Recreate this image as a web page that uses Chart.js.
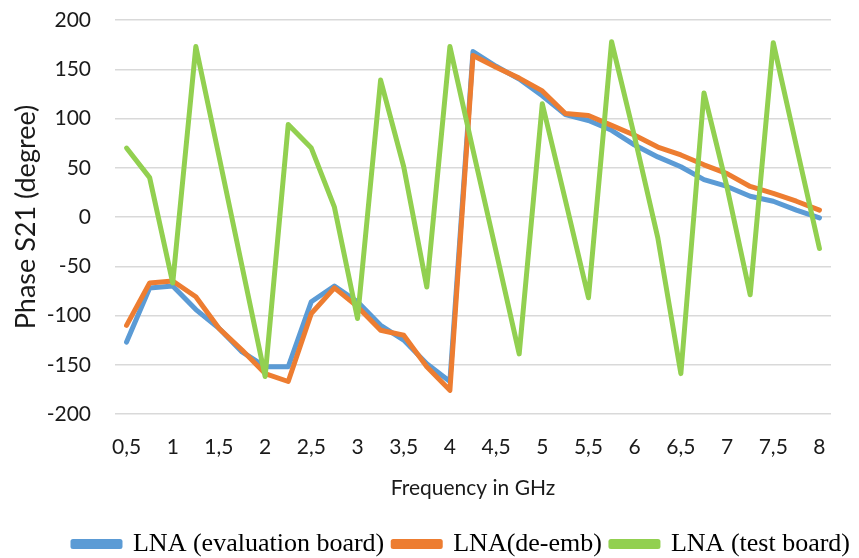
<!DOCTYPE html>
<html>
<head>
<meta charset="utf-8">
<script src="https://cdn.jsdelivr.net/npm/chart.js@4/dist/chart.umd.min.js"></script>
<style>
  html, body { margin: 0; padding: 0; background: #fff; }
  #box { width: 859px; height: 558px; }
</style>
</head>
<body>
<div id="box"><canvas id="grafico"></canvas></div>
<script>
// frequencias (GHz) e fase S21 em graus
const frequencias = [0.5, 0.75, 1, 1.25, 1.5, 1.75, 2, 2.25, 2.5, 2.75, 3, 3.25, 3.5, 3.75, 4,
    4.25, 4.5, 4.75, 5, 5.25, 5.5, 5.75, 6, 6.25, 6.5, 6.75, 7, 7.25, 7.5, 7.75, 8];

const faseEvaluation = [-127, -72, -70, -94, -113, -137, -152, -152, -86, -70, -86, -110, -125, -149, -167,
    168, 153, 140, 123, 104, 98, 88, 73, 61, 51, 38, 31, 21, 16, 7, -1];

const faseDeEmb = [-110, -67, -65, -81, -113, -135, -159, -167, -98, -72, -91, -115, -120, -152, -176,
    164, 152, 141, 128, 105, 103, 93, 83, 71, 63, 53, 44, 31, 24, 16, 7];

const faseTestBoard = [70, 40, -67, 173, 62, -50, -162, 94, 70, 10, -103, 139, 51, -71, 173,
    68, -35, -139, 115, 17, -82, 178, 81, -21, -159, 126, 30, -79, 177, 72, -32];

const nomesSeries = ["LNA (evaluation board)", "LNA(de-emb)", "LNA (test board)"];
const coresSeries = ["#5b9bd5", "#ed7d31", "#92d050"];

function serie(i, dados, ordem) {
    return {
        label: nomesSeries[i],
        data: dados,
        borderColor: coresSeries[i],
        backgroundColor: coresSeries[i],
        borderWidth: 5,
        borderCapStyle: "round",
        borderJoinStyle: "round",
        pointRadius: 0,
        tension: 0,
        order: ordem
    };
}

const ctx = document.getElementById("grafico");

new Chart(ctx, {
    type: "line",
    data: {
        labels: frequencias,
        datasets: [
            serie(0, faseEvaluation, 3),
            serie(1, faseDeEmb, 2),
            serie(2, faseTestBoard, 1)
        ]
    },
    options: {
        responsive: true,
        maintainAspectRatio: false,
        animation: false,
        layout: { padding: { left: 0, right: 0, top: 20, bottom: -9 } },
        plugins: {
            tooltip: { enabled: false },
            legend: {
                position: "bottom",
                align: "end",
                labels: {
                    color: "#000",
                    font: { family: "'Liberation Serif', 'Times New Roman', serif", size: 26 },
                    boxWidth: 47,
                    boxHeight: 5,
                    padding: 9,
                    sort: (a, b) => a.datasetIndex - b.datasetIndex
                }
            }
        },
        scales: {
            x: {
                offset: true,
                grid: { display: false, drawTicks: false },
                border: { display: false },
                ticks: {
                    autoSkip: false,
                    maxRotation: 0,
                    padding: 21,
                    color: "#1a1a1a",
                    font: { family: "Lato", size: 21 },
                    callback: function (valor, indice) {
                        if (indice % 2 !== 0) return "";
                        return String(frequencias[indice]).replace(".", ",");
                    }
                },
                title: {
                    display: true,
                    text: "Frequency in GHz",
                    color: "#1a1a1a",
                    font: { family: "Lato", size: 21 },
                    padding: { top: 0, bottom: 21 }
                },
                afterFit: function (escala) {
                    escala.height = 108;
                    escala.paddingRight = 28; // espaco a direita da area do grafico
                }
            },
            y: {
                min: -200,
                max: 200,
                grid: { color: "#d9d9d9", lineWidth: 1.5, drawTicks: false },
                border: { display: false },
                ticks: {
                    stepSize: 50,
                    padding: 24,
                    color: "#1a1a1a",
                    font: { family: "Lato", size: 21 }
                },
                title: {
                    display: true,
                    text: "Phase S21 (degree)",
                    color: "#1a1a1a",
                    font: { family: "Lato", size: 27 },
                    padding: { top: 10, bottom: 0 }
                },
                afterFit: function (escala) {
                    escala.width = 115;
                    escala.paddingTop = 12;
                    escala.paddingBottom = 12;
                }
            }
        }
    }
});
</script>
</body>
</html>
